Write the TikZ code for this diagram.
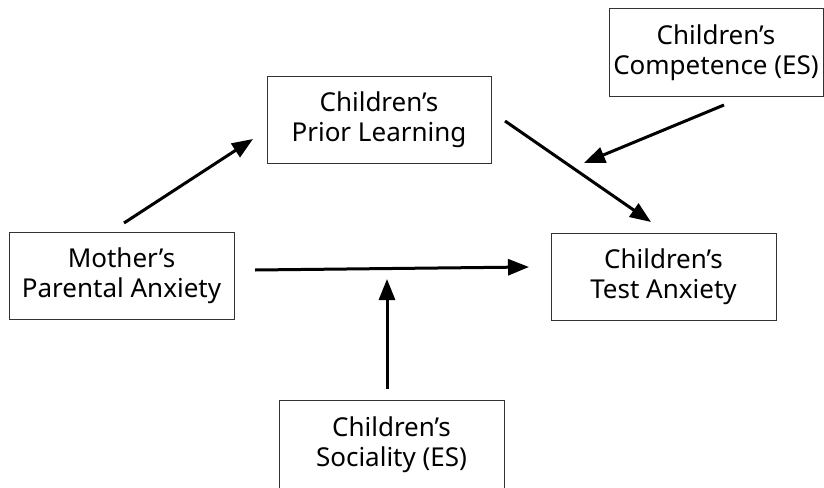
\documentclass[tikz,border=0pt]{standalone}
\usepackage{fontspec}
\setmainfont{Noto Sans}
\usetikzlibrary{arrows.meta}
\begin{document}
\begin{tikzpicture}[x=1pt,y=-1pt,
  box/.style={draw=black!80, line width=1pt, fill=white, inner sep=0pt,
    minimum width=225pt, minimum height=87pt, align=center,
    font=\fontsize{26}{30.5}\selectfont},
  conn/.style={line width=3pt, -{Triangle[length=21pt,width=16pt]}}]
\useasboundingbox (0,0) rectangle (824,487);
\node[box, minimum width=224pt] (prior) at (379,119.5) {Children’s\\Prior Learning};
\node[box, minimum width=214pt] (comp) at (716,52.5) {Children’s\\Competence (ES)};
\node[box] (mother) at (121.5,275.5) {Mother’s\\Parental Anxiety};
\node[box] (test) at (663.5,276.5) {Children’s\\Test Anxiety};
\node[box, minimum height=88pt, anchor=north] (soc) at (391.5,400) {Children’s\\Sociality (ES)};
\coordinate (a1) at (124,223);
\coordinate (a2) at (253,139);
\coordinate (b1) at (505,121);
\coordinate (b2) at (651,222);
\coordinate (c1) at (724,105);
\coordinate (c2) at (584,163);
\coordinate (d1) at (255,270);
\coordinate (d2) at (529,267);
\coordinate (e1) at (387,389);
\coordinate (e2) at (387,279);
\draw[conn] (a1) -- (a2);
\draw[conn] (b1) -- (b2);
\draw[conn] (c1) -- (c2);
\draw[conn] (d1) -- (d2);
\draw[conn] (e1) -- (e2);
\end{tikzpicture}
\end{document}
